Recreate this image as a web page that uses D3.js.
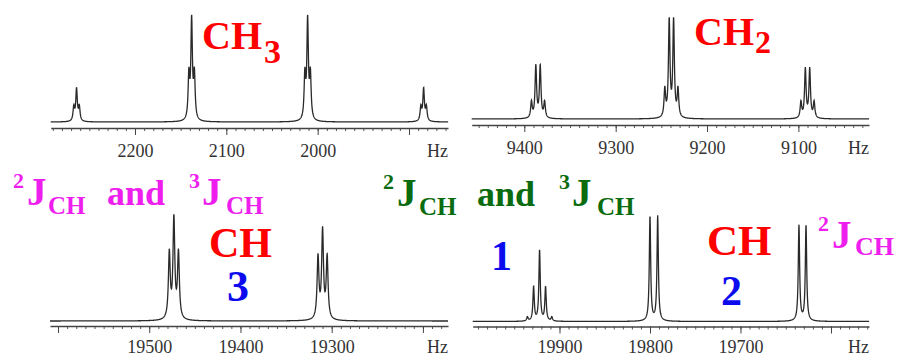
<!DOCTYPE html>
<html>
<head>
<meta charset="utf-8">
<script src="https://cdn.jsdelivr.net/npm/d3@7"></script>
<style>
  body { margin: 0; background: #fff; }
  svg { display: block; }
  text { font-family: "Liberation Serif", "Times New Roman", Times, serif; }
  .lbl { font-weight: bold; }
</style>
</head>
<body>
<svg id="chart" width="904" height="356"></svg>
<script>
// line lists (Hz, peak height)
const methylHz  = [2267, 2264, 2261, 2141, 2138, 2135, 2014, 2011, 2008, 1887, 1884, 1881];
const methylInt = [14, 32, 14, 44, 99, 44, 44, 99, 44, 14, 32, 14];
const methylTicks = [2200, 2100, 2000, 1900];
const methylLabels = [2200, 2100, 2000];

const methyleneHz  = [9392.2, 9387.4, 9382.6, 9377.8, 9246.2, 9241.4, 9236.6, 9231.8, 9097.2, 9092.4, 9087.6, 9082.8];
const methyleneInt = [16, 52, 52, 16, 28, 97, 97, 28, 16, 49, 49, 16];
const methyleneTicks = [9400, 9300, 9200, 9100];
const methyleneLabels = [9400, 9300, 9200, 9100];

const ch3Hz  = [19478, 19473, 19468, 19315, 19310, 19305];
const ch3Int = [66, 100, 66, 62, 88, 62];
const ch3Ticks = [19600, 19500, 19400, 19300, 19200];
const ch3Labels = [19500, 19400, 19300];

const ch12Hz  = [19935.5, 19928.6, 19922, 19915.4, 19908.5, 19800, 19791.5, 19635.4, 19627.6];
const ch12Int = [4, 34, 71, 34, 4, 105, 105, 96, 96];
const ch12Ticks = [19900, 19800, 19700, 19600];
const ch12Labels = [19900, 19800, 19700];

const panels = [
  {hz: methylHz, amp: methylInt, ticks: methylTicks, labels: methylLabels, gamma: 1.0,
   x0: 50.7, x1: 448, base: 122, axisY: 128, pad: 9, dom: [2292.3, 1857.3]},
  {hz: methyleneHz, amp: methyleneInt, ticks: methyleneTicks, labels: methyleneLabels, gamma: 1.0,
   x0: 471.7, x1: 869, base: 119, axisY: 125, pad: 9, dom: [9457.6, 9022.7]},
  {hz: ch3Hz, amp: ch3Int, ticks: ch3Ticks, labels: ch3Labels, gamma: 1.2,
   x0: 50, x1: 448, base: 321, axisY: 326, pad: 7, dom: [19608.8, 19172.5]},
  {hz: ch12Hz, amp: ch12Int, ticks: ch12Ticks, labels: ch12Labels, gamma: 0.9,
   x0: 472.7, x1: 869, base: 321.5, axisY: 326.5, pad: 6.5, dom: [19995.9, 19558]}
];

const svg = d3.select("#chart");

panels.forEach(p => {
  const x = d3.scaleLinear().domain(p.dom).range([p.x0, p.x1]);
  const y = d3.scaleLinear().domain([0, 100]).range([p.base, p.base - 100]);

  // lorentzian sum over the line list
  const spec = f => d3.sum(p.hz, (c, i) => p.amp[i] / (1 + ((f - c) / p.gamma) ** 2));
  const pts = d3.range(0, (p.x1 - p.x0) * 5 + 1).map(i => x.invert(p.x0 + i / 5));

  svg.append("path")
    .datum(pts)
    .attr("fill", "none")
    .attr("stroke", "#2a2a2a")
    .attr("stroke-width", 1.3)
    .attr("d", d3.line().x(d => x(d)).y(d => y(spec(d))));

  const minor = d3.range(Math.ceil(p.dom[1] / 10) * 10, p.dom[0], 10);
  svg.append("g")
    .attr("transform", `translate(0,${p.axisY})`)
    .call(d3.axisBottom(x).tickValues(minor).tickSize(3).tickFormat(""))
    .call(g => g.select(".domain").remove())
    .call(g => g.selectAll("line").attr("stroke", "#555"));

  svg.append("g")
    .attr("transform", `translate(0,${p.axisY})`)
    .call(d3.axisBottom(x).tickValues(p.ticks).tickSize(7).tickSizeOuter(0).tickPadding(p.pad)
      .tickFormat(d => p.labels.includes(d) ? d : ""))
    .call(g => g.attr("font-family", null))
    .call(g => g.select(".domain").attr("stroke", "#444").attr("stroke-width", 1.3))
    .call(g => g.selectAll("line").attr("stroke", "#444"))
    .call(g => g.selectAll("text")
      .attr("font-size", 18)
      .attr("fill", "#333"));

  svg.append("text")
    .attr("x", p.x1).attr("y", p.axisY + p.pad + 20)
    .attr("text-anchor", "end")
    .attr("font-size", 18)
    .attr("fill", "#333")
    .text("Hz");
});

// annotations
function label(parts, color) {
  const t = svg.append("text").attr("class", "lbl").attr("fill", color);
  parts.forEach(([s, x, y, size]) => {
    t.append("tspan").attr("x", x).attr("y", y).attr("font-size", size).text(s);
  });
}

const red = "#ff0000", blue = "#0b0bee", magenta = "#ee1fee", green = "#0b6b0f";

label([["CH", 202, 49, 40], ["3", 264, 63, 34]], red);
label([["CH", 694, 45, 40], ["2", 755, 53, 32]], red);

label([["2", 13, 188, 22], ["J", 27, 205, 39], ["CH", 48, 214, 25],
       ["and", 107, 205, 36], ["3", 189, 188, 22], ["J", 202, 205, 39], ["CH", 226, 214, 25]], magenta);
label([["2", 383, 189, 22], ["J", 397, 206, 39], ["CH", 419, 215, 25],
       ["and", 477, 206, 36], ["3", 559, 189, 22], ["J", 572, 206, 39], ["CH", 597, 215, 25]], green);

label([["CH", 209, 257, 42]], red);
label([["3", 227, 301, 44]], blue);
label([["1", 491, 270, 42]], blue);
label([["CH", 707, 255, 43]], red);
label([["2", 721, 305, 42]], blue);
label([["2", 818, 231, 22], ["J", 832, 248, 39], ["CH", 855, 255, 26]], magenta);
</script>
</body>
</html>
